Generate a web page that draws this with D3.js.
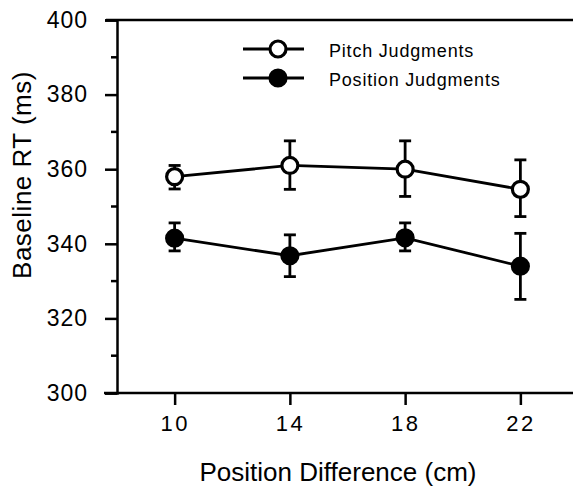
<!DOCTYPE html>
<html>
<head>
<meta charset="utf-8">
<script src="https://cdn.jsdelivr.net/npm/d3@7"></script>
<style>
  body { margin: 0; background: #fff; }
  svg { display: block; font-family: "Liberation Sans", Arial, sans-serif; }
</style>
</head>
<body>
<svg id="chart"></svg>
<script>
// Baseline RT by position difference

const positions = [10, 14, 18, 22];
const pitchMean = [358, 361, 360, 354.6];
const pitchLow = [354.7, 354.6, 352.7, 347.3];
const pitchHigh = [361, 367.6, 367.6, 362.5];
const posMean = [341.5, 336.8, 341.6, 334];
const posLow = [338.1, 331.2, 338.1, 325.1];
const posHigh = [345.6, 342.4, 345.6, 342.8];
const yTicks = [300, 320, 340, 360, 380, 400];
const yMinor = [310, 330, 350, 370, 390];

const width = 573, height = 490;
const svg = d3.select("#chart").attr("width", width).attr("height", height);

const x = d3.scaleLinear().domain([8, 24]).range([117, 578]);
const y = d3.scaleLinear().domain([300, 400]).range([393, 20]);

// frame lines
svg.append("line").attr("x1", 104).attr("x2", width).attr("y1", y(300)).attr("y2", y(300))
    .attr("stroke", "#000").attr("stroke-width", 2.5);
svg.append("line").attr("x1", 106).attr("x2", width).attr("y1", y(400)).attr("y2", y(400))
    .attr("stroke", "#000").attr("stroke-width", 2.5);

// y axis
const yAxis = svg.append("g").attr("transform", "translate(117,0)")
    .call(d3.axisLeft(y).tickValues(yTicks).tickSize(12).tickPadding(17));
yAxis.select(".domain").attr("stroke-width", 2.5);
yAxis.selectAll(".tick line").attr("stroke-width", 2.5);
yAxis.selectAll("text").attr("font-size", 23).attr("fill", "#000")
    .attr("letter-spacing", "1px")
    .attr("font-family", "Liberation Sans, Arial, sans-serif");
svg.append("g").selectAll("line").data(yMinor).join("line")
    .attr("x1", 111).attr("x2", 117)
    .attr("y1", d => y(d)).attr("y2", d => y(d))
    .attr("stroke", "#000").attr("stroke-width", 2.5);

// x axis
const xAxis = svg.append("g").attr("transform", `translate(0,${y(300)})`)
    .call(d3.axisBottom(x).tickValues(positions).tickSize(12).tickPadding(10));
xAxis.select(".domain").remove();
xAxis.selectAll(".tick line").attr("stroke-width", 2.5);
xAxis.selectAll("text").attr("font-size", 22).attr("fill", "#000")
    .attr("letter-spacing", "2.5px")
    .attr("font-family", "Liberation Sans, Arial, sans-serif");

// axis titles
svg.append("text")
    .attr("x", 338).attr("y", 481)
    .attr("text-anchor", "middle")
    .attr("font-size", 26)
    .text("Position Difference (cm)");
svg.append("text")
    .attr("transform", "translate(31,175) rotate(-90)")
    .attr("text-anchor", "middle")
    .attr("font-size", 26)
    .attr("letter-spacing", "0.5px")
    .text("Baseline RT (ms)");

// series
const series = [
    { name: "Pitch Judgments", mean: pitchMean, low: pitchLow, high: pitchHigh, fill: "#fff" },
    { name: "Position Judgments", mean: posMean, low: posLow, high: posHigh, fill: "#000" }
];

const line = d3.line().x((d, i) => x(positions[i])).y(d => y(d));

series.forEach(s => {
    const g = svg.append("g");
    g.append("path").datum(s.mean).attr("d", line)
        .attr("fill", "none").attr("stroke", "#000").attr("stroke-width", 2.8);

    positions.forEach((p, i) => {
        g.append("line")
            .attr("x1", x(p)).attr("x2", x(p))
            .attr("y1", y(s.low[i])).attr("y2", y(s.high[i]))
            .attr("stroke", "#000").attr("stroke-width", 2.8);
        [s.low[i], s.high[i]].forEach(v => {
            g.append("line")
                .attr("x1", x(p) - 6).attr("x2", x(p) + 6)
                .attr("y1", y(v)).attr("y2", y(v))
                .attr("stroke", "#000").attr("stroke-width", 2.8);
        });
    });

    g.selectAll("circle").data(s.mean).join("circle")
        .attr("cx", (d, i) => x(positions[i]))
        .attr("cy", d => y(d))
        .attr("r", 8)
        .attr("fill", s.fill)
        .attr("stroke", "#000").attr("stroke-width", 3.2);
});

// legend
const legend = svg.append("g");
series.forEach((s, i) => {
    const ly = 49 + i * 29;
    legend.append("line").attr("x1", 243).attr("x2", 304).attr("y1", ly).attr("y2", ly)
        .attr("stroke", "#000").attr("stroke-width", 2.8);
    legend.append("circle").attr("cx", 278).attr("cy", ly).attr("r", 8)
        .attr("fill", s.fill).attr("stroke", "#000").attr("stroke-width", 3.2);
    legend.append("text").attr("x", 329).attr("y", ly + 8)
        .attr("font-size", 18)
        .attr("letter-spacing", "0.8px")
        .text(s.name);
});
</script>
</body>
</html>
